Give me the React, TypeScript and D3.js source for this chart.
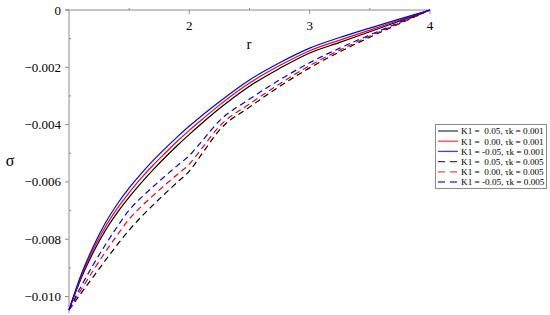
import { useRef, useEffect } from 'react';
import * as d3 from 'd3';

const rValues = [1, 1.1, 1.2, 1.3, 1.4, 1.5, 1.6, 1.7, 1.8, 1.9, 2, 2.1, 2.25, 2.5, 2.75, 3, 3.25, 3.5, 3.75, 4];

// sigma values, tk = 0.001 (solid)
const sigmaK005Tk001 = [-0.01047, -0.00937, -0.00847, -0.00771, -0.00708, -0.00653, -0.00603, -0.00557, -0.00514, -0.00473, -0.00434, -0.00397, -0.00344, -0.00266, -0.00204, -0.0015, -0.00113, -0.00076, -0.00038, 0];
const sigmaK000Tk001 = [-0.01047, -0.00931, -0.00837, -0.00758, -0.00693, -0.00637, -0.00587, -0.00541, -0.00499, -0.00458, -0.0042, -0.00384, -0.00332, -0.00255, -0.00194, -0.00142, -0.00105, -0.0007, -0.00035, 0];
const sigmaKm005Tk001 = [-0.01047, -0.00925, -0.00827, -0.00745, -0.00678, -0.00621, -0.00571, -0.00525, -0.00483, -0.00443, -0.00405, -0.0037, -0.0032, -0.00244, -0.00184, -0.00133, -0.00096, -0.00063, -0.00031, 0];
// sigma values, tk = 0.005 (dashed)
const sigmaK005Tk005 = [-0.01047, -0.00989, -0.00932, -0.00875, -0.0082, -0.00768, -0.00722, -0.0068, -0.0064, -0.00601, -0.00562, -0.00505, -0.00419, -0.00339, -0.00267, -0.00202, -0.00146, -0.00095, -0.00047, 0];
const sigmaK000Tk005 = [-0.01047, -0.00977, -0.0091, -0.00846, -0.00786, -0.0073, -0.00686, -0.00647, -0.0061, -0.00574, -0.00538, -0.00485, -0.00406, -0.00328, -0.00258, -0.00194, -0.0014, -0.00091, -0.00045, 0];
const sigmaKm005Tk005 = [-0.01047, -0.00965, -0.0089, -0.00821, -0.00757, -0.00698, -0.00655, -0.00616, -0.00579, -0.00543, -0.00508, -0.0046, -0.00387, -0.00311, -0.00244, -0.00184, -0.00133, -0.00087, -0.00043, 0];

const seriesLabels = [
  'K1 =  0.05, \u03c4k = 0.001',
  'K1 =  0.00, \u03c4k = 0.001',
  'K1 = -0.05, \u03c4k = 0.001',
  'K1 =  0.05, \u03c4k = 0.005',
  'K1 =  0.00, \u03c4k = 0.005',
  'K1 = -0.05, \u03c4k = 0.005',
];
const seriesValues = [sigmaK005Tk001, sigmaK000Tk001, sigmaKm005Tk001, sigmaK005Tk005, sigmaK000Tk005, sigmaKm005Tk005];
const seriesColors = ['#000000', '#ff0000', '#0000ff', '#000000', '#ff0000', '#0000ff'];
const seriesDashed = [false, false, false, true, true, true];

const xMajorTicks = [2, 3, 4];
const xMinorTicks = [1.5, 2.5, 3.5];
const yMajorTicks = [0, -0.002, -0.004, -0.006, -0.008, -0.01];
const yMinorTicks = [-0.001, -0.003, -0.005, -0.007, -0.009];

const WIDTH = 550;
const HEIGHT = 315;
const FONT = '"Liberation Serif", "Times New Roman", serif';
const AXIS_COLOR = '#8c8c8c';

const App = () => {
  const chartRef = useRef<SVGSVGElement>(null);

  useEffect(() => {
    const svg = d3.select(chartRef.current);
    svg.selectAll('*').remove();

    const xScale = d3.scaleLinear().domain([1, 4]).range([69, 430]);
    const yScale = d3.scaleLinear().domain([0, -0.01047]).range([10, 310]);

    // axes
    svg.append('line')
      .attr('x1', 65).attr('x2', xScale(4))
      .attr('y1', yScale(0)).attr('y2', yScale(0))
      .attr('stroke', AXIS_COLOR).attr('stroke-width', 1);
    svg.append('line')
      .attr('x1', xScale(1)).attr('x2', xScale(1))
      .attr('y1', yScale(0)).attr('y2', 313)
      .attr('stroke', AXIS_COLOR).attr('stroke-width', 1);

    xMajorTicks.forEach(t => {
      svg.append('line')
        .attr('x1', xScale(t)).attr('x2', xScale(t))
        .attr('y1', yScale(0)).attr('y2', yScale(0) + 4)
        .attr('stroke', AXIS_COLOR);
      svg.append('text')
        .attr('x', xScale(t)).attr('y', yScale(0) + 20)
        .attr('text-anchor', 'middle')
        .attr('font-family', FONT).attr('font-size', 13)
        .text(t);
    });
    xMinorTicks.forEach(t => {
      svg.append('line')
        .attr('x1', xScale(t)).attr('x2', xScale(t))
        .attr('y1', yScale(0)).attr('y2', yScale(0) - 2)
        .attr('stroke', AXIS_COLOR);
    });

    yMajorTicks.forEach(t => {
      svg.append('line')
        .attr('x1', xScale(1) - 4).attr('x2', xScale(1))
        .attr('y1', yScale(t)).attr('y2', yScale(t))
        .attr('stroke', AXIS_COLOR);
      svg.append('text')
        .attr('x', 61).attr('y', yScale(t) + 4.5)
        .attr('text-anchor', 'end')
        .attr('font-family', FONT).attr('font-size', 13)
        .text(t === 0 ? '0' : '\u2212' + Math.abs(t).toFixed(3));
    });
    yMinorTicks.forEach(t => {
      svg.append('line')
        .attr('x1', xScale(1)).attr('x2', xScale(1) + 2)
        .attr('y1', yScale(t)).attr('y2', yScale(t))
        .attr('stroke', AXIS_COLOR);
    });

    svg.append('text')
      .attr('x', 249).attr('y', 49)
      .attr('text-anchor', 'middle')
      .attr('font-family', FONT).attr('font-size', 15)
      .text('r');
    svg.append('text')
      .attr('x', 10).attr('y', 166)
      .attr('text-anchor', 'middle')
      .attr('font-family', FONT).attr('font-size', 16)
      .text('\u03c3');

    const line = d3.line<number>()
      .x((d, i) => xScale(rValues[i]))
      .y(d => yScale(d))
      .curve(d3.curveMonotoneX);

    // dashed first so the solid ones sit on top
    [3, 4, 5, 0, 1, 2].forEach(i => {
      svg.append('path')
        .attr('d', line(seriesValues[i]))
        .attr('fill', 'none')
        .attr('stroke', seriesColors[i])
        .attr('stroke-width', 1.2)
        .attr('stroke-dasharray', seriesDashed[i] ? '6 4' : null);
    });

    // legend
    const legend = svg.append('g').attr('transform', 'translate(435, 124)');
    legend.append('rect')
      .attr('x', 0.5).attr('y', 0.5)
      .attr('width', 111).attr('height', 64)
      .attr('fill', '#ffffff')
      .attr('stroke', AXIS_COLOR);
    seriesLabels.forEach((label, i) => {
      const cy = 7 + i * 10.2;
      legend.append('line')
        .attr('x1', 3).attr('x2', 23)
        .attr('y1', cy).attr('y2', cy)
        .attr('stroke', seriesColors[i])
        .attr('stroke-opacity', 0.75)
        .attr('stroke-width', 1.3)
        .attr('stroke-dasharray', seriesDashed[i] ? '7 5' : null);
      legend.append('text')
        .attr('x', 26).attr('y', cy + 3.3)
        .attr('font-family', FONT).attr('font-size', 9.2)
        .style('white-space', 'pre')
        .text(label);
    });
  }, []);

  return (
    <svg
      ref={chartRef}
      width={WIDTH}
      height={HEIGHT}
      style={{ position: 'absolute', left: 0, top: 0, background: '#fff' }}
    />
  );
};

export default App;
